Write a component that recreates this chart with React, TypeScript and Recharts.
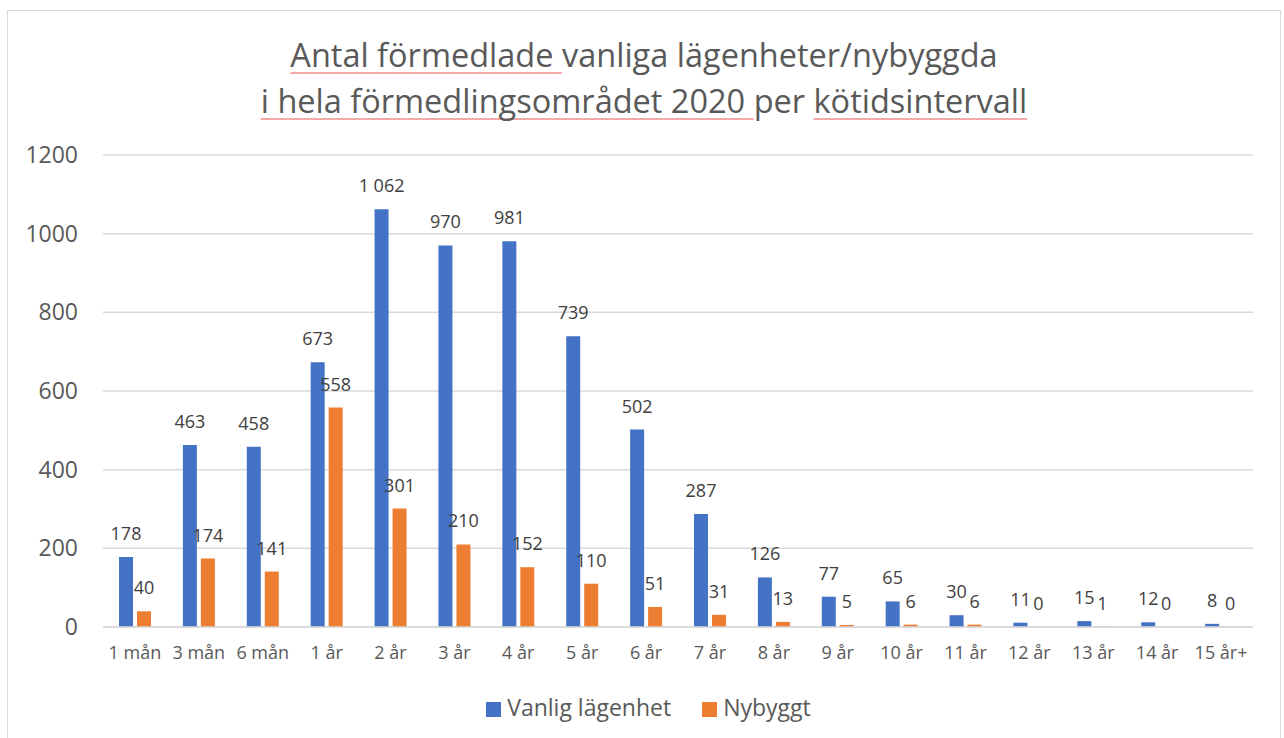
import React from 'react';
import {
  BarChart,
  Bar,
  XAxis,
  YAxis,
  CartesianGrid,
  Legend,
  LabelList,
} from 'recharts';

// kötidsintervall
const categories = [
  '1 mån', '3 mån', '6 mån', '1 år', '2 år', '3 år', '4 år', '5 år', '6 år',
  '7 år', '8 år', '9 år', '10 år', '11 år', '12 år', '13 år', '14 år', '15 år+',
];
const vanligValues = [178, 463, 458, 673, 1062, 970, 981, 739, 502, 287, 126, 77, 65, 30, 11, 15, 12, 8];
const nybyggtValues = [40, 174, 141, 558, 301, 210, 152, 110, 51, 31, 13, 5, 6, 6, 0, 1, 0, 0];
const yTicks = [0, 200, 400, 600, 800, 1000, 1200];
const seriesOrder = ['Vanlig lägenhet', 'Nybyggt'];

const data = categories.map((name, i) => ({
  name,
  vanlig: vanligValues[i],
  nybyggt: nybyggtValues[i],
}));

const BLUE = '#4472C4';
const ORANGE = '#ED7D31';
const FONT = '"Open Sans", sans-serif';

// svensk tusentalsavgränsare: 1062 -> "1 062"
const fmt = (v: any) => {
  const n = Number(v);
  return n >= 1000 ? `${Math.floor(n / 1000)} ${String(n % 1000).padStart(3, '0')}` : String(n);
};

// egen etikett så att "1 062" inte bryts och nollor också visas
const BarLabel = (props: any) => {
  const { x, y, width, value } = props;
  if (value == null) return null;
  return (
    <text
      x={Number(x) + Number(width) / 2}
      y={Number(y) - 17}
      textAnchor="middle"
      fontSize={18}
      fill="#404040"
      fontFamily={FONT}
    >
      {fmt(value)}
    </text>
  );
};

// nollstaplar behöver en pytteliten höjd för att få etikett
const tinyForZero = (value: any) => (Number(value) === 0 ? 0.01 : 0);

const underline: React.CSSProperties = {
  textDecoration: 'underline',
  textDecorationColor: '#f4a9a9',
  textDecorationThickness: '1.5px',
  textUnderlineOffset: '5px',
  textDecorationSkipInk: 'none',
};

const LegendContent = (props: any) => {
  const items = [...(props.payload || [])].sort(
    (a: any, b: any) => seriesOrder.indexOf(a.value) - seriesOrder.indexOf(b.value)
  );
  return (
    <div style={{ height: 30, lineHeight: '30px', textAlign: 'center', paddingLeft: 36, fontFamily: FONT }}>
      {items.map((item: any, i: number) => (
        <span key={item.value} style={{ display: 'inline-block', marginLeft: i ? 31 : 0 }}>
          <span style={{ display: 'inline-block', width: 15, height: 15, background: item.color, marginRight: 6, verticalAlign: '-1px' }} />
          <span style={{ fontSize: 23, color: '#595959' }}>{item.value}</span>
        </span>
      ))}
    </div>
  );
};

export default function App() {
  return (
    <div
      style={{
        position: 'absolute',
        left: 7,
        top: 10,
        width: 1274,
        height: 728,
        border: '1px solid #d9d9d9',
        borderBottom: 'none',
        boxSizing: 'border-box',
        background: '#fff',
        fontFamily: FONT,
      }}
    >
      <div
        style={{
          position: 'absolute',
          top: 21,
          left: 0,
          width: '100%',
          textAlign: 'center',
          fontSize: 32.5,
          lineHeight: '46px',
          color: '#595959',
          zIndex: 1,
        }}
      >
        <div>
          <span style={underline}>Antal förmedlade </span>vanliga lägenheter/nybyggda
        </div>
        <div>
          <span style={underline}>i hela förmedlingsområdet 2020 </span>per <span style={underline}>kötidsintervall</span>
        </div>
      </div>
      <BarChart
        width={1272}
        height={727}
        data={data}
        margin={{ top: 144, right: 27, left: 0, bottom: 16 }}
        barGap={4}
        barSize={14}
      >
        <CartesianGrid vertical={false} stroke="#d9d9d9" strokeWidth={1.5} />
        <XAxis
          dataKey="name"
          height={65}
          axisLine={{ stroke: '#d9d9d9', strokeWidth: 1.5 }}
          tickLine={false}
          tickSize={0}
          tickMargin={19}
          interval={0}
          tick={{ fontSize: 18, fill: '#595959', fontFamily: FONT }}
        />
        <YAxis
          width={95}
          domain={[0, 1200]}
          ticks={yTicks}
          axisLine={false}
          tickLine={false}
          tickSize={0}
          tickMargin={25}
          tick={{ fontSize: 23, fill: '#595959', fontFamily: FONT }}
        />
        <Legend verticalAlign="bottom" content={LegendContent} />
        <Bar dataKey="vanlig" name="Vanlig lägenhet" fill={BLUE} minPointSize={tinyForZero} isAnimationActive={false}>
          <LabelList dataKey="vanlig" content={BarLabel} />
        </Bar>
        <Bar dataKey="nybyggt" name="Nybyggt" fill={ORANGE} minPointSize={tinyForZero} isAnimationActive={false}>
          <LabelList dataKey="nybyggt" content={BarLabel} />
        </Bar>
      </BarChart>
    </div>
  );
}
